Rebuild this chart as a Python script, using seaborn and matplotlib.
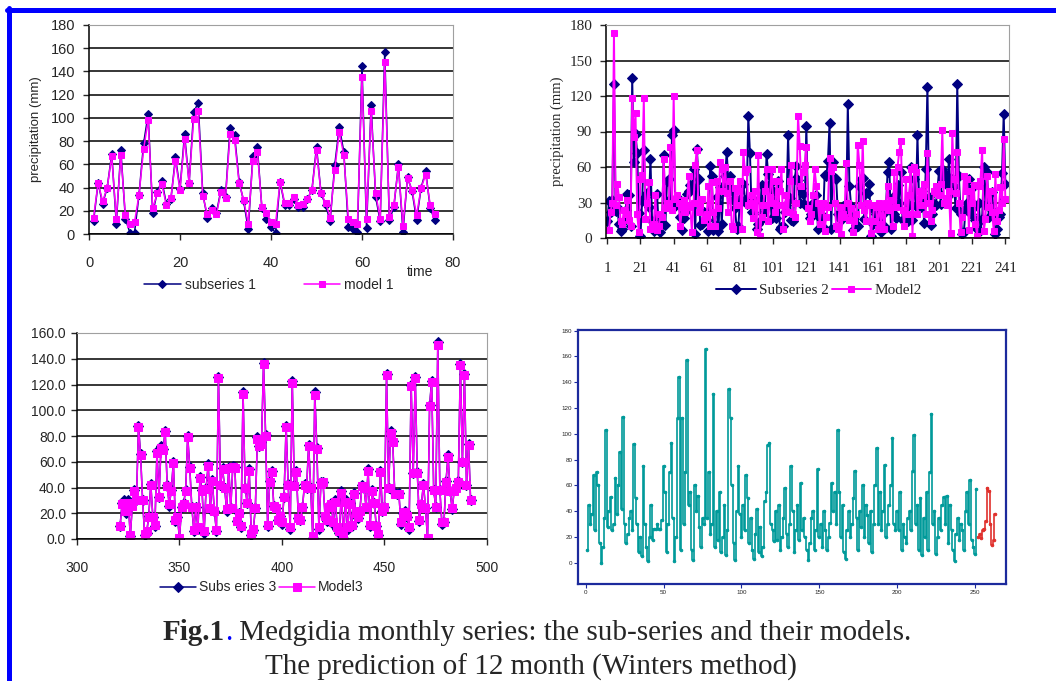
import numpy as np
import matplotlib
matplotlib.use("Agg")
import matplotlib.pyplot as plt
import seaborn as sns
from matplotlib.lines import Line2D
from matplotlib.ticker import FormatStrFormatter

sns.set_style("ticks")
plt.rcParams["font.family"] = ["Liberation Sans", "DejaVu Sans"]

NAVY = "#000080"
MAGENTA = "#ff00ff"
TEAL = "#009a9a"
RED = "#e0302c"
SERIF = "Liberation Serif"

# ---- panel 1: subseries 1 and model 1 (time 1..76)
sub1 = [11, 44, 26, 40, 69, 9, 72, 13, 1, 1, 34, 78, 103, 18, 36, 46, 26, 30, 66, 39,
        86, 44, 105, 113, 35, 14, 22, 18, 38, 32, 91, 85, 45, 28, 4, 67, 75, 22, 13, 6,
        1, 45, 25, 25, 30, 23, 23, 30, 38, 75, 35, 25, 11, 59, 92, 71, 6, 4, 2, 145,
        5, 111, 32, 11, 157, 12, 23, 60, 2, 49, 37, 12, 40, 54, 22, 12]
mod1 = [14, 44, 28, 40, 67, 13, 68, 16, 9, 10, 34, 73, 98, 22, 35, 43, 25, 31, 63, 38,
        82, 44, 99, 106, 33, 17, 21, 17, 36, 31, 86, 81, 44, 29, 9, 63, 71, 23, 18, 10,
        9, 45, 27, 27, 32, 25, 26, 30, 38, 72, 35, 27, 14, 55, 88, 68, 13, 10, 9, 135,
        13, 106, 35, 13, 148, 15, 25, 58, 7, 48, 38, 16, 40, 51, 25, 17]

# ---- panel 2: subseries 2 and model 2 (months 1..241)
sub2 = [14, 31, 22, 32, 130, 23, 26, 12, 6, 8, 14, 24, 37, 36, 10, 135, 64, 88, 72, 21,
        2, 31, 74, 35, 38, 26, 67, 14, 6, 13, 37, 9, 5, 12, 70, 11, 48, 50, 33, 87,
        91, 27, 35, 31, 18, 7, 17, 22, 37, 40, 45, 44, 58, 3, 75, 50, 11, 12, 22, 20,
        15, 6, 61, 52, 7, 11, 35, 6, 43, 12, 44, 52, 73, 45, 52, 40, 32, 25, 8, 10,
        33, 31, 46, 32, 29, 103, 72, 22, 22, 31, 8, 12, 14, 45, 20, 26, 71, 54, 46, 17,
        40, 28, 17, 48, 8, 9, 10, 22, 28, 87, 34, 15, 14, 50, 61, 49, 30, 42, 37, 28,
        95, 27, 17, 20, 30, 22, 36, 8, 17, 20, 9, 53, 52, 65, 97, 8, 64, 51, 50, 20,
        17, 15, 27, 24, 20, 113, 44, 27, 7, 19, 11, 10, 44, 50, 51, 16, 38, 38, 46, 2,
        12, 24, 20, 17, 18, 5, 20, 10, 26, 56, 64, 8, 35, 20, 17, 45, 30, 56, 15, 14,
        18, 14, 28, 60, 15, 50, 27, 87, 30, 26, 40, 13, 58, 128, 35, 11, 20, 29, 28, 40,
        57, 29, 58, 48, 53, 45, 67, 38, 50, 44, 25, 130, 52, 20, 3, 5, 25, 30, 50, 20,
        42, 26, 15, 8, 30, 6, 16, 60, 28, 56, 18, 25, 39, 20, 3, 8, 18, 20, 55, 105, 46]
mod2 = [7, 7, 22, 30, 173, 28, 46, 35, 14, 12, 24, 20, 32, 15, 10, 118, 85, 106, 20, 5,
        50, 53, 118, 16, 30, 47, 8, 10, 12, 36, 7, 10, 20, 18, 67, 25, 30, 25, 77, 24,
        120, 33, 36, 30, 10, 26, 32, 22, 28, 52, 26, 5, 30, 62, 74, 22, 28, 33, 15, 18,
        20, 44, 10, 47, 22, 10, 48, 25, 64, 58, 40, 60, 38, 22, 48, 10, 8, 42, 28, 40,
        48, 8, 73, 56, 58, 28, 30, 36, 17, 40, 5, 70, 2, 18, 28, 40, 58, 14, 35, 58,
        30, 22, 48, 28, 40, 58, 8, 28, 36, 22, 48, 62, 20, 18, 30, 103, 78, 44, 56, 62,
        77, 25, 14, 20, 36, 58, 44, 30, 12, 24, 30, 6, 18, 26, 68, 57, 60, 30, 10, 8,
        26, 3, 20, 18, 63, 30, 15, 25, 5, 14, 20, 79, 62, 28, 82, 24, 14, 30, 28, 4,
        14, 28, 26, 8, 30, 12, 26, 8, 30, 44, 24, 32, 10, 56, 26, 60, 73, 82, 24, 10,
        50, 20, 36, 58, 2, 60, 56, 20, 40, 28, 36, 46, 20, 72, 30, 14, 24, 40, 44, 38,
        36, 46, 91, 30, 34, 28, 40, 4, 89, 50, 38, 73, 30, 5, 18, 52, 40, 50, 7, 40,
        30, 45, 12, 2, 44, 48, 74, 6, 16, 52, 26, 40, 22, 6, 54, 14, 24, 43, 30, 84, 33]

# ---- panel 3: subseries 3 and model 3 (months 321..492)
sub3 = [10, 28, 30, 20, 30, 2, 27, 38, 30, 88,
        66, 30, 3, 5, 18, 43, 17, 10, 68, 33,
        72, 70, 84, 42, 26, 38, 60, 14, 17, 0,
        25, 28, 38, 80, 56, 25, 6, 25, 8, 48,
        38, 5, 40, 58, 23, 46, 22, 6, 126, 42,
        55, 40, 22, 56, 24, 57, 56, 14, 20, 9,
        114, 40, 28, 54, 3, 7, 24, 79, 72, 75,
        137, 81, 10, 45, 53, 26, 24, 15, 18, 12,
        33, 88, 43, 8, 123, 42, 53, 16, 15, 25,
        43, 40, 73, 40, 1, 114, 71, 8, 44, 44,
        18, 14, 26, 28, 12, 30, 8, 5, 37, 1,
        30, 8, 28, 10, 36, 20, 16, 22, 42, 40,
        25, 54, 10, 38, 28, 10, 3, 53, 22, 25,
        128, 40, 84, 76, 36, 35, 36, 12, 20, 22,
        17, 8, 120, 51, 126, 52, 14, 27, 43, 24,
        0, 104, 123, 38, 25, 153, 38, 12, 13, 45,
        65, 37, 23, 38, 40, 45, 136, 60, 128, 42,
        74, 30]
mod3 = [10, 27, 28, 22, 28, 3, 26, 37, 30, 87,
        65, 30, 4, 6, 17, 42, 17, 11, 67, 33,
        71, 69, 83, 41, 27, 37, 59, 15, 17, 1,
        25, 27, 37, 79, 55, 25, 7, 25, 9, 47,
        37, 6, 39, 57, 24, 45, 22, 7, 125, 42,
        54, 40, 23, 55, 24, 56, 55, 14, 20, 10,
        113, 40, 28, 53, 4, 8, 24, 78, 72, 74,
        136, 80, 11, 44, 52, 26, 24, 15, 18, 13,
        33, 87, 42, 9, 121, 41, 52, 16, 15, 25,
        42, 40, 72, 40, 2, 112, 70, 9, 43, 44,
        18, 15, 25, 27, 13, 29, 9, 6, 36, 2,
        29, 9, 27, 11, 35, 20, 17, 22, 41, 40,
        25, 53, 11, 37, 28, 10, 4, 52, 22, 25,
        127, 40, 82, 75, 35, 35, 35, 13, 20, 21,
        18, 9, 119, 51, 125, 51, 15, 27, 42, 24,
        1, 103, 122, 38, 25, 151, 38, 13, 13, 44,
        64, 37, 24, 37, 40, 44, 135, 60, 127, 42,
        73, 30]

# ---- panel 4: observed series and 12-month Winters prediction
obs4 = [10, 45, 30, 38, 68, 25, 70, 60, 15, 0,
        12, 35, 103, 28, 40, 51, 25, 30, 66, 38,
        60, 86, 42, 113, 30, 15, 22, 35, 40, 25,
        92, 50, 30, 8, 20, 5, 75, 30, 12, 1,
        20, 45, 18, 26, 26, 30, 26, 26, 33, 75,
        55, 8, 30, 70, 93, 35, 1, 20, 112, 144,
        10, 112, 30, 70, 157, 45, 55, 10, 2, 60,
        40, 52, 28, 12, 35, 30, 166, 35, 70, 22,
        30, 131, 12, 40, 18, 55, 8, 20, 45, 6,
        25, 135, 112, 60, 15, 2, 40, 75, 38, 20,
        45, 25, 68, 50, 15, 35, 10, 3, 22, 42,
        8, 28, 5, 12, 48, 55, 91, 93, 30, 25,
        17, 40, 18, 45, 10, 20, 35, 58, 22, 12,
        30, 75, 40, 8, 25, 45, 18, 62, 25, 35,
        20, 10, 2, 15, 35, 40, 10, 25, 73, 20,
        30, 12, 40, 25, 10, 20, 31, 62, 40, 55,
        30, 103, 55, 20, 45, 8, 3, 25, 40, 20,
        30, 50, 71, 35, 10, 40, 28, 60, 20, 45,
        37, 15, 40, 8, 30, 60, 89, 30, 55, 25,
        40, 76, 20, 30, 45, 60, 97, 30, 25, 40,
        25, 55, 10, 30, 20, 15, 35, 40, 25, 71,
        99, 30, 45, 10, 50, 6, 35, 20, 55, 10,
        70, 115, 30, 40, 7, 20, 35, 25, 45, 51,
        30, 52, 15, 45, 25, 10, 1, 22, 35, 18,
        30, 25, 10, 40, 55, 30, 64, 18, 12, 7,
        57]
pred4 = [20, 22, 19, 25, 26, 32, 58, 56, 30, 14, 18, 38]

t1 = np.arange(1, len(sub1) + 1)
t2 = np.arange(1, len(sub2) + 1)
t3 = np.arange(321, 321 + len(sub3))
t4 = np.arange(1, len(obs4) + 1)
t4p = np.arange(len(obs4) + 1, len(obs4) + 1 + len(pred4))

fig = plt.figure(figsize=(10.56, 6.81), dpi=100)
W, H = 1056, 681


def box(l, t, r, b):
    return fig.add_axes([l / W, 1 - b / H, (r - l) / W, (b - t) / H])


def excel_look(ax, serif=False, size=10, xpad=3, ypad=3):
    ax.set_axisbelow(True)
    ax.yaxis.grid(True, color="black", lw=1.1)
    ax.xaxis.grid(False)
    for s in ["top", "right"]:
        ax.spines[s].set_visible(True)
        ax.spines[s].set_color("#a0a0a0")
    for s in ["left", "bottom"]:
        ax.spines[s].set_color("black")
        ax.spines[s].set_linewidth(1.1)
    ax.tick_params(direction="out", length=4, width=1, labelsize=size,
                   left=True, bottom=True)
    ax.tick_params(axis="x", pad=xpad)
    ax.tick_params(axis="y", pad=ypad)
    if serif:
        ax.tick_params(labelfontfamily=SERIF)
    ax.set_xlabel("")
    ax.set_ylabel("")


def pair(ax, x, a, b, la, lb, ms_a, ms_b, lw):
    sns.lineplot(x=x, y=a, ax=ax, color=NAVY, lw=lw, marker="D", markersize=ms_a,
                 markeredgecolor=NAVY, label=la)
    sns.lineplot(x=x, y=b, ax=ax, color=MAGENTA, lw=lw, marker="s", markersize=ms_b,
                 markeredgecolor=MAGENTA, label=lb)


# panel 1
ax1 = box(89, 25, 453, 234)
pair(ax1, t1, sub1, mod1, "subseries 1", "model 1", 4.5, 5, 1.1)
ax1.set_xlim(0, 80)
ax1.set_ylim(0, 180)
ax1.set_xticks(range(0, 81, 20))
ax1.set_yticks(range(0, 181, 20))
excel_look(ax1, size=10.5, xpad=12, ypad=6)
ax1.set_ylabel("precipitation (mm)", fontsize=9.5, labelpad=6)
ax1.text(0.91, -0.2, "time", transform=ax1.transAxes, fontsize=10, ha="center")
ax1.legend(loc="center", bbox_to_anchor=(0.495, -0.245), ncol=2, frameon=False,
           fontsize=10, handlelength=2.6, columnspacing=3.5, handletextpad=0.3)

# panel 2
ax2 = box(606, 25, 1009, 238)
pair(ax2, t2, sub2, mod2, "Subseries 2", "Model2", 5, 4.5, 1.4)
ax2.set_xlim(0.2, 243.2)
ax2.set_ylim(0, 180)
ax2.set_xticks(range(1, 242, 20))
ax2.set_yticks(range(0, 181, 30))
excel_look(ax2, serif=True, size=11, xpad=13, ypad=6)
ax2.set_ylabel("precipitation (mm)", fontsize=10.5, family=SERIF, labelpad=4)
ax2.legend(loc="center", bbox_to_anchor=(0.528, -0.245), ncol=2, frameon=False,
           prop={"family": SERIF, "size": 11}, handlelength=2.6,
           columnspacing=0.2, handletextpad=0.2)

# panel 3
ax3 = box(77, 333, 487, 539)
pair(ax3, t3, sub3, mod3, "Subs eries 3", "Model3", 5.5, 5.5, 1.1)
ax3.set_xlim(300, 500)
ax3.set_ylim(0, 160)
ax3.set_xticks(range(300, 501, 50))
ax3.set_yticks(range(0, 161, 20))
excel_look(ax3, size=10, xpad=12, ypad=4)
ax3.yaxis.set_major_formatter(FormatStrFormatter("%.1f"))
ax3.legend(loc="center", bbox_to_anchor=(0.45, -0.235), ncol=2, frameon=False,
           fontsize=10, handlelength=2.6, columnspacing=0.2, handletextpad=0.2)

# panel 4
ax4 = box(578, 330, 1006, 584)
sns.lineplot(x=t4, y=obs4, ax=ax4, color=TEAL, lw=1.2, drawstyle="steps-mid",
             marker="o", markersize=1.8, markeredgecolor=TEAL)
sns.lineplot(x=t4p, y=pred4, ax=ax4, color=RED, lw=1.2, drawstyle="steps-mid",
             marker="o", markersize=1.8, markeredgecolor=RED)
ax4.set_xlim(-5, 270)
ax4.set_ylim(-16.5, 180.5)
ax4.set_xticks(range(0, 251, 50))
ax4.set_yticks(range(0, 181, 20))
for s in ax4.spines.values():
    s.set_visible(True)
    s.set_color("#1c2a9c")
    s.set_linewidth(1.6)
ax4.tick_params(direction="out", length=3, width=0.8, labelsize=4.5, pad=1,
                left=True, bottom=True, color="#1c2a9c")
ax4.set_xlabel("")
ax4.set_ylabel("")

# blue frame around the figure
fig.add_artist(Line2D([7 / W, 1], [1 - 9.5 / H, 1 - 9.5 / H], transform=fig.transFigure,
                      color="#0000ff", lw=3.6))
fig.add_artist(Line2D([9 / W, 9 / W], [0, 1 - 8 / H], transform=fig.transFigure,
                      color="#0000ff", lw=3.6))

# caption: pieces placed one after another, line centred like the original
y1, y2 = 1 - 633 / H, 1 - 667 / H
cap_kw = dict(family=SERIF, fontsize=21, va="center")
pieces = [("Fig.1", dict(fontweight="bold")), (".", dict(color="#0000ff")),
          (" Medgidia monthly series: the sub-series and their models.", {})]
renderer = fig.canvas.get_renderer()
texts = [fig.text(0, y1, s, **cap_kw, **kw) for s, kw in pieces]
widths = [t.get_window_extent(renderer).width for t in texts]
x = 537 - sum(widths) / 2
for t, w in zip(texts, widths):
    t.set_x(x / W)
    x += w
fig.text(531 / W, y2, "The prediction of 12 month (Winters method)", ha="center", **cap_kw)

fig.savefig("out.png", dpi=100)
